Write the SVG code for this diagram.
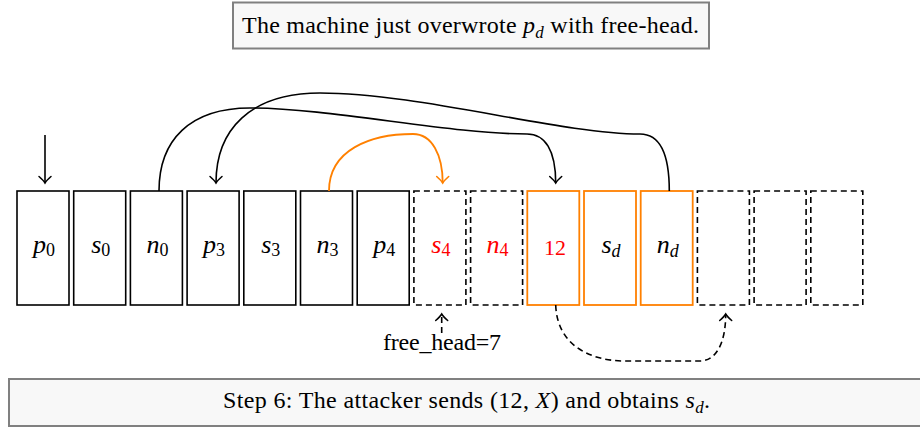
<svg xmlns="http://www.w3.org/2000/svg" width="920" height="429" viewBox="0 0 920 429">
<style>
  text { font-family: "Liberation Serif", "Times New Roman", serif; fill: #000; }
  .box { fill: #f8f8f8; stroke: #808080; stroke-width: 2; }
  .cell { fill: none; stroke: #000; stroke-width: 1.6; }
  .dcell { fill: none; stroke: #000; stroke-width: 1.6; stroke-dasharray: 6 4; }
  .ocell { fill: none; stroke: #ff8000; stroke-width: 1.8; }
  .lbl { font-size: 26px; }
  .it { font-style: italic; }
  .sub { font-size: 18px; }
  .red { fill: #ff0000; }
  .con { fill: none; stroke: #000; stroke-width: 1.6; }
  .ocon { fill: none; stroke: #ff8000; stroke-width: 1.8; }
  .dcon { fill: none; stroke: #000; stroke-width: 1.6; stroke-dasharray: 6 4; }
</style>
<defs>
  <marker id="ah" markerUnits="userSpaceOnUse" markerWidth="14" markerHeight="14" viewBox="-8 -7 10 14" refX="0" refY="0" orient="auto" overflow="visible">
    <path d="M -6.5,-6 Q -2.4,-1.4 0,0 Q -2.4,1.4 -6.5,6" fill="none" stroke="#000" stroke-width="1.5" stroke-linecap="round" stroke-dasharray="none"/>
  </marker>
  <marker id="aho" markerUnits="userSpaceOnUse" markerWidth="14" markerHeight="14" viewBox="-8 -7 10 14" refX="0" refY="0" orient="auto" overflow="visible">
    <path d="M -6.5,-6 Q -2.4,-1.4 0,0 Q -2.4,1.4 -6.5,6" fill="none" stroke="#ff8000" stroke-width="1.6" stroke-linecap="round"/>
  </marker>
</defs>

<g id="title">
  <rect class="box" x="233" y="2.5" width="476" height="46"/>
  <text x="242" y="33" font-size="24" textLength="457">The machine just overwrote <tspan class="it">p</tspan><tspan class="it" font-size="17" dy="5">d</tspan><tspan dy="-5"> with free-head.</tspan></text>
</g>

<g id="cell0"><rect class="cell" x="17" y="191" width="52" height="114"/><text class="lbl" x="44" y="253" text-anchor="middle"><tspan class="it">p</tspan><tspan class="sub" dy="3">0</tspan></text></g>
<g id="cell1"><rect class="cell" x="73.7" y="191" width="52" height="114"/><text class="lbl" x="100.7" y="253" text-anchor="middle"><tspan class="it">s</tspan><tspan class="sub" dy="3">0</tspan></text></g>
<g id="cell2"><rect class="cell" x="130.4" y="191" width="52" height="114"/><text class="lbl" x="157.4" y="253" text-anchor="middle"><tspan class="it">n</tspan><tspan class="sub" dy="3">0</tspan></text></g>
<g id="cell3"><rect class="cell" x="187.1" y="191" width="52" height="114"/><text class="lbl" x="214.1" y="253" text-anchor="middle"><tspan class="it">p</tspan><tspan class="sub" dy="3">3</tspan></text></g>
<g id="cell4"><rect class="cell" x="243.8" y="191" width="52" height="114"/><text class="lbl" x="270.8" y="253" text-anchor="middle"><tspan class="it">s</tspan><tspan class="sub" dy="3">3</tspan></text></g>
<g id="cell5"><rect class="cell" x="300.5" y="191" width="52" height="114"/><text class="lbl" x="327.5" y="253" text-anchor="middle"><tspan class="it">n</tspan><tspan class="sub" dy="3">3</tspan></text></g>
<g id="cell6"><rect class="cell" x="357.2" y="191" width="52" height="114"/><text class="lbl" x="384.2" y="253" text-anchor="middle"><tspan class="it">p</tspan><tspan class="sub" dy="3">4</tspan></text></g>
<g id="cell7"><rect class="dcell" x="413.9" y="191" width="52" height="114"/><text class="lbl red" x="440.9" y="253" text-anchor="middle"><tspan class="it">s</tspan><tspan class="sub" dy="3">4</tspan></text></g>
<g id="cell8"><rect class="dcell" x="470.6" y="191" width="52" height="114"/><text class="lbl red" x="497.6" y="253" text-anchor="middle"><tspan class="it">n</tspan><tspan class="sub" dy="3">4</tspan></text></g>
<g id="cell9"><rect class="ocell" x="527.3" y="191" width="52" height="114"/><text class="red" x="555" y="255" font-size="22" text-anchor="middle">12</text></g>
<g id="cell10"><rect class="ocell" x="584" y="191" width="52" height="114"/><text class="lbl" x="611" y="253" text-anchor="middle"><tspan class="it">s</tspan><tspan class="sub it" dy="4">d</tspan></text></g>
<g id="cell11"><rect class="ocell" x="640.7" y="191" width="52" height="114"/><text class="lbl" x="667.7" y="253" text-anchor="middle"><tspan class="it">n</tspan><tspan class="sub it" dy="4">d</tspan></text></g>
<g id="cell12"><rect class="dcell" x="697.4" y="191" width="52" height="114"/></g>
<g id="cell13"><rect class="dcell" x="754.1" y="191" width="52" height="114"/></g>
<g id="cell14"><rect class="dcell" x="810.8" y="191" width="52" height="114"/></g>

<g id="freehead">
  <text x="383" y="350" font-size="24" textLength="118">free_head=7</text>
</g>

<g id="caption">
  <rect class="box" x="9" y="379" width="920" height="47"/>
  <text x="223" y="408" font-size="24" textLength="487">Step 6: The attacker sends (12, <tspan class="it">X</tspan>) and obtains <tspan class="it">s</tspan><tspan class="it" font-size="17" dy="5">d</tspan><tspan dy="-5">.</tspan></text>
</g>

<g id="connectors">
  <path class="con" d="M 45,135 L 45,183" marker-end="url(#ah)"/>
  <path class="con" d="M 159,191 C 159,140 190,108 250,108 C 330,108 450,134 527,134 C 545,134 555.7,150 555.7,183" marker-end="url(#ah)"/>
  <path class="con" d="M 669.3,191 C 669.3,155 660,134 640,134 C 560,134 420,93 320,93 C 250,93 216,130 216,183" marker-end="url(#ah)"/>
  <path class="ocon" d="M 329,191 C 329,150 370,134 413,134 C 432,134 442.7,155 442.7,183" marker-end="url(#aho)"/>
  <path class="dcon" d="M 441.7,333 L 441.7,314" marker-end="url(#ah)"/>
  <path class="dcon" d="M 555.7,305 C 557,345 590,361 625,361 L 700,361 C 715,361 725.7,345 725.7,314" marker-end="url(#ah)"/>
</g>
</svg>
